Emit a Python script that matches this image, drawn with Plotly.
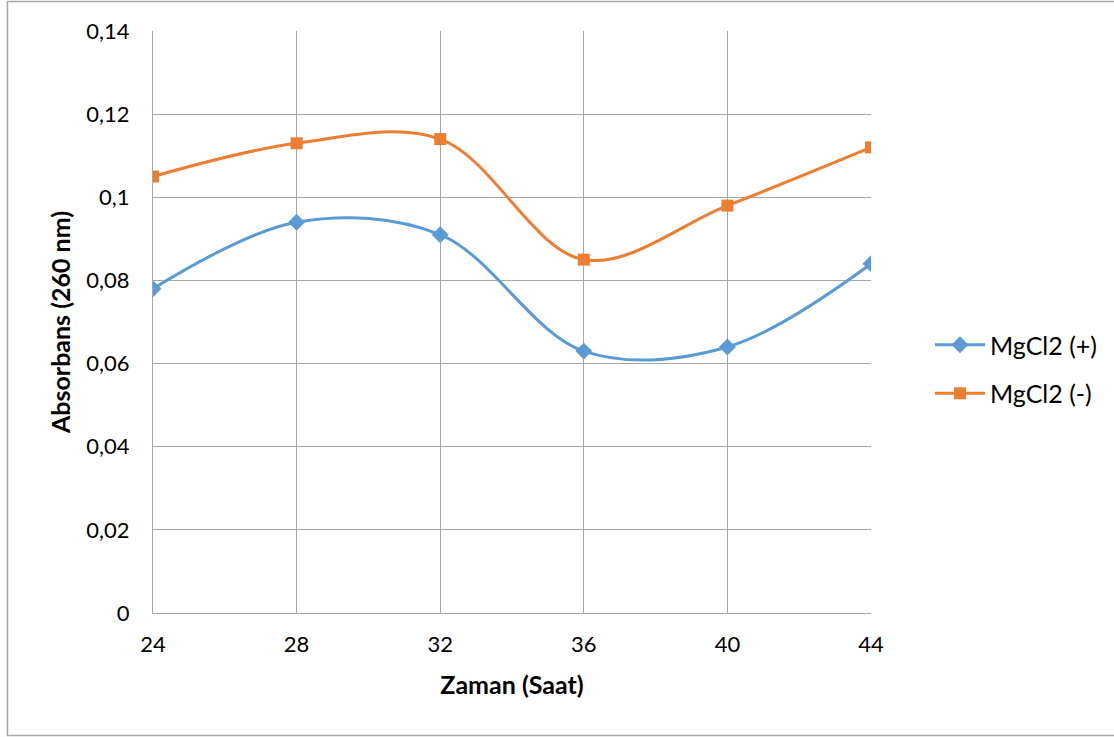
import plotly.graph_objects as go

hours = [24, 28, 32, 36, 40, 44]
mg_plus = [0.078, 0.094, 0.091, 0.063, 0.064, 0.084]
mg_minus = [0.105, 0.113, 0.114, 0.085, 0.098, 0.112]
y_ticks = [0, 0.02, 0.04, 0.06, 0.08, 0.1, 0.12, 0.14]
y_labels = ["0", "0,02", "0,04", "0,06", "0,08", "0,1", "0,12", "0,14"]

W, H = 1114, 737
L, R, T, B = 153, 871, 31, 613
PW, PH = R - L, B - T

fig = go.Figure()
fig.add_trace(go.Scatter(x=hours, y=mg_plus, name="MgCl2 (+)", mode="lines+markers", legendgroup="a",
                         line=dict(color="#5B9BD5", width=3, shape="spline", smoothing=1),
                         marker=dict(symbol="diamond", size=13, color="#5B9BD5")))
fig.add_trace(go.Scatter(x=hours, y=mg_minus, name="MgCl2 (-)", mode="lines+markers", legendgroup="b",
                         line=dict(color="#ED7D31", width=3, shape="spline", smoothing=1),
                         marker=dict(symbol="square", size=12, color="#ED7D31")))

font = "Lato, 'Open Sans', sans-serif"
fig.update_layout(
    width=W, height=H,
    margin=dict(l=L, r=W - R, t=T, b=H - B),
    plot_bgcolor="white", paper_bgcolor="white",
    font=dict(family=font, size=22, color="black"),
    xaxis=dict(range=[24, 44], tickvals=hours, showgrid=True, gridcolor="#A6A6A6", gridwidth=1,
               showline=True, linecolor="#A6A6A6", zeroline=False,
               ticks="outside", ticklen=12, tickcolor="rgba(0,0,0,0)",
               title=dict(text="<b>Zaman (Saat)</b>", font=dict(size=25), standoff=20),
               tickfont=dict(size=22)),
    yaxis=dict(range=[0, 0.14], tickvals=y_ticks, ticktext=y_labels, showgrid=True,
               gridcolor="#A6A6A6", gridwidth=1, showline=True, linecolor="#A6A6A6",
               zeroline=False, ticks="outside", ticklen=18, tickcolor="rgba(0,0,0,0)",
               title=dict(text="<b>Absorbans (260 nm)</b>", font=dict(size=25), standoff=8),
               tickfont=dict(size=22)),
    legend=dict(x=(930 - L) / PW, y=(B - 343) / PH + 0.036,
                xanchor="left", yanchor="top", traceorder="grouped",
                font=dict(size=25), tracegroupgap=13, itemwidth=50, bgcolor="rgba(0,0,0,0)"),
    showlegend=True,
)

# outer chart border (right edge lies beyond the picture)
x0 = (7.5 - L) / PW; x1 = (1130 - L) / PW
y0 = (B - 735.5) / PH; y1 = (B - 1.5) / PH
fig.add_shape(type="rect", xref="paper", yref="paper", x0=x0, x1=x1, y0=y0, y1=y1,
              line=dict(color="#A6A6A6", width=1.5), layer="below")

fig.write_html("out.html", config={"displayModeBar": False},
               post_script="document.body.style.margin='0';document.body.style.overflow='hidden';")
